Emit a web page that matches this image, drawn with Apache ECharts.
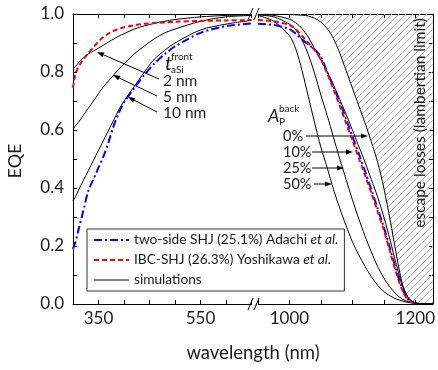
<!DOCTYPE html>
<html>
<head>
<meta charset="utf-8">
<script src="https://cdn.jsdelivr.net/npm/echarts@6/dist/echarts.min.js"></script>
<style>
  html, body { margin: 0; padding: 0; background: #fff; }
  #chart { width: 438px; height: 370px; }
</style>
</head>
<body>
<div id="chart"></div>
<script>
// wavelength samples (nm), left and right part of the broken axis
const wlLeft = [300, 305, 310, 320, 330, 340, 350, 360, 370, 380, 390, 400, 420, 440, 460, 480, 500, 550, 600, 650];
const wlRight = [950, 975, 1000, 1010, 1020, 1030, 1040, 1050, 1060, 1070, 1080, 1090, 1100, 1110, 1120, 1130, 1140, 1150, 1160, 1170, 1180, 1190, 1200, 1210, 1228];

// measured EQE
const blueLeft = [0.19, 0.215, 0.25, 0.32, 0.39, 0.43, 0.47, 0.51, 0.56, 0.615, 0.66, 0.695, 0.745, 0.79, 0.83, 0.862, 0.888, 0.935, 0.958, 0.967];
const redLeft = [0.745, 0.795, 0.815, 0.843, 0.865, 0.885, 0.905, 0.921, 0.933, 0.942, 0.949, 0.954, 0.961, 0.966, 0.969, 0.971, 0.973, 0.976, 0.978, 0.979];
const blueRight = [0.966, 0.962, 0.948, 0.932, 0.912, 0.895, 0.878, 0.852, 0.80, 0.75, 0.695, 0.638, 0.578, 0.52, 0.458, 0.395, 0.33, 0.265, 0.19, 0.115, 0.05, 0.012, 0.003];
const redRight = [0.979, 0.975, 0.962, 0.948, 0.925, 0.90, 0.875, 0.845, 0.795, 0.74, 0.683, 0.624, 0.565, 0.505, 0.445, 0.385, 0.32, 0.255, 0.18, 0.105, 0.045, 0.01, 0.002];

// simulations, front a-Si thickness
const sim2nm = [0.81, 0.82, 0.83, 0.848, 0.862, 0.872, 0.882, 0.893, 0.904, 0.914, 0.924, 0.932, 0.948, 0.959, 0.968, 0.975, 0.981, 0.99, 0.995, 0.997];
const sim5nm = [0.602, 0.615, 0.625, 0.65, 0.675, 0.70, 0.725, 0.75, 0.77, 0.79, 0.81, 0.828, 0.862, 0.89, 0.915, 0.935, 0.948, 0.975, 0.99, 0.995];
const sim10nm = [0.356, 0.37, 0.39, 0.425, 0.46, 0.495, 0.53, 0.565, 0.60, 0.635, 0.67, 0.70, 0.75, 0.80, 0.845, 0.875, 0.90, 0.945, 0.965, 0.978];

// simulations, back parasitic absorption
const simA0 = [0.999, 0.999, 0.998, 0.997, 0.996, 0.993, 0.985, 0.972, 0.95, 0.915, 0.865, 0.805, 0.745, 0.685, 0.625, 0.56, 0.49, 0.40, 0.29, 0.17, 0.065, 0.018, 0.004, 0.001, 0];
const simA10 = [0.998, 0.995, 0.982, 0.97, 0.95, 0.92, 0.88, 0.84, 0.80, 0.755, 0.705, 0.655, 0.60, 0.545, 0.49, 0.43, 0.37, 0.30, 0.22, 0.135, 0.06, 0.018, 0.005, 0.001, 0];
const simA25 = [0.997, 0.99, 0.965, 0.945, 0.91, 0.86, 0.795, 0.72, 0.65, 0.575, 0.50, 0.43, 0.36, 0.295, 0.235, 0.18, 0.13, 0.09, 0.058, 0.033, 0.016, 0.007, 0.003, 0.001, 0];
const simA50 = [0.995, 0.975, 0.925, 0.88, 0.805, 0.715, 0.625, 0.54, 0.47, 0.395, 0.33, 0.27, 0.215, 0.17, 0.13, 0.095, 0.065, 0.043, 0.028, 0.017, 0.01, 0.005, 0.003, 0.001, 0];

const xLabelsLeft = [350, 550];
const xLabelsRight = [1000, 1200];

const nameBlue = 'two-side SHJ (25.1%) Adachi et al.';
const nameRed = 'IBC-SHJ (26.3%) Yoshikawa et al.';
const nameSim = 'simulations';

const FONT = 'Lato';
const TXT = '#1a1a1a';

function pairs(xs, ys) {
  return ys.map((y, i) => [xs[i], y]);
}

// diagonal hatch for the escape-loss region
const hatch = document.createElement('canvas');
hatch.width = 7; hatch.height = 7;
(function () {
  const c = hatch.getContext('2d');
  c.strokeStyle = '#b0b0b0';
  c.lineWidth = 1;
  c.beginPath();
  c.moveTo(0, 7); c.lineTo(7, 0);
  c.moveTo(-1, 1); c.lineTo(1, -1);
  c.moveTo(6, 8); c.lineTo(8, 6);
  c.stroke();
})();

const chart = echarts.init(document.getElementById('chart'), null, { renderer: 'canvas' });

const tick = { show: true, inside: true, length: 4, lineStyle: { color: '#000', width: 1 } };
const axLine = { show: true, onZero: false, lineStyle: { color: '#000', width: 1 } };

function xAxis(gridIndex, min, max, position, labels) {
  return {
    type: 'value', gridIndex, min, max, interval: 50, position,
    axisLine: axLine, axisTick: tick, splitLine: { show: false },
    axisLabel: labels ? {
      show: true, margin: 6, color: TXT, fontFamily: FONT, fontSize: 17,
      formatter: (v) => (labels.includes(v) ? String(v) : '')
    } : { show: false }
  };
}

const black = { color: '#000', width: 1 };
const blueStyle = { color: '#0000ff', width: 2, type: [8, 3, 2, 3] };
const redStyle = { color: '#ff0000', width: 2, type: [5, 3] };

function line(name, xi, data, style, extra) {
  return Object.assign({
    name, type: 'line', xAxisIndex: xi, yAxisIndex: xi === 0 ? 0 : 1,
    data, symbol: 'none', smooth: 0.3, lineStyle: style,
    itemStyle: { color: 'rgba(0,0,0,0)', borderWidth: 0 },
    emphasis: { disabled: true }, silent: true, animation: false
  }, extra || {});
}

function arrow(x1, y1, x2, y2) {
  const a = Math.atan2(y2 - y1, x2 - x1);
  const L = 7, W = 2.6;
  const bx = x2 - L * Math.cos(a), by = y2 - L * Math.sin(a);
  const nx = -Math.sin(a) * W, ny = Math.cos(a) * W;
  return [
    { type: 'line', shape: { x1, y1, x2: bx, y2: by }, style: { stroke: '#000', lineWidth: 1 } },
    { type: 'polygon', shape: { points: [[x2, y2], [bx + nx, by + ny], [bx - nx, by - ny]] }, style: { fill: '#000' } }
  ];
}

function text(x, y, s, size, opts) {
  opts = opts || {};
  return {
    type: 'text', x, y, rotation: opts.rotation || 0, z: 100,
    style: {
      text: s, fill: TXT,
      font: (opts.italic ? 'italic ' : '') + size + 'px ' + FONT,
      align: opts.align || 'left', verticalAlign: 'middle',
      textAlign: opts.align || 'left', textVerticalAlign: 'middle'
    }
  };
}

function breakMarks(y) {
  return [
    { type: 'line', shape: { x1: 248, y1: y + 6, x2: 253, y2: y - 6 }, style: { stroke: '#000', lineWidth: 1 } },
    { type: 'line', shape: { x1: 254, y1: y + 6, x2: 259, y2: y - 6 }, style: { stroke: '#000', lineWidth: 1 } }
  ];
}

const option = {
  animation: false,
  backgroundColor: '#fff',
  grid: [
    { left: 73, top: 14, width: 178.5, height: 290 },
    { left: 258, top: 14, width: 176, height: 290 }
  ],
  xAxis: [
    xAxis(0, 300, 650, 'bottom', xLabelsLeft),
    xAxis(0, 300, 650, 'top', null),
    xAxis(1, 950, 1228, 'bottom', xLabelsRight),
    xAxis(1, 950, 1228, 'top', null)
  ],
  yAxis: [
    {
      type: 'value', gridIndex: 0, min: 0, max: 1, interval: 0.1, position: 'left',
      axisLine: axLine, axisTick: tick, splitLine: { show: false },
      axisLabel: {
        margin: 9, color: TXT, fontFamily: FONT, fontSize: 17,
        formatter: (v) => (Math.round(v * 10) % 2 === 0 ? v.toFixed(1) : '')
      }
    },
    {
      type: 'value', gridIndex: 1, min: 0, max: 1, interval: 0.1, position: 'right',
      axisLine: axLine, axisTick: tick, splitLine: { show: false },
      axisLabel: { show: false }
    }
  ],
  legend: {
    orient: 'vertical', left: 87, top: 229,
    data: [
      { name: nameBlue, lineStyle: { width: 2 } },
      { name: nameRed, lineStyle: { width: 2 } },
      { name: nameSim, lineStyle: { width: 1 } }
    ],
    itemWidth: 35, itemHeight: 14, itemGap: 6,
    padding: [4, 6, 4, 6],
    borderColor: '#333', borderWidth: 1, backgroundColor: '#fff',
    selectedMode: false,
    itemStyle: { opacity: 0 },
    textStyle: {
      color: TXT, fontFamily: FONT, fontSize: 13.7,
      rich: {
        n: { color: TXT, fontFamily: FONT, fontSize: 13.7 },
        i: { color: TXT, fontFamily: FONT, fontSize: 13.7, fontStyle: 'italic' }
      }
    },
    formatter: (name) => {
      const k = name.indexOf('et al.');
      return k < 0 ? '{n|' + name + '}' : '{n|' + name.slice(0, k) + '}{i|et al.}';
    }
  },
  series: [
    line(nameSim, 0, pairs(wlLeft, sim2nm), black),
    line(nameSim, 0, pairs(wlLeft, sim5nm), black),
    line(nameSim, 0, pairs(wlLeft, sim10nm), black),
    line(nameBlue, 0, pairs(wlLeft, blueLeft), blueStyle),
    line(nameRed, 0, pairs(wlLeft, redLeft), redStyle),
    line(nameSim, 2, pairs(wlRight, simA0), black, {
      areaStyle: { origin: 'end', opacity: 1, color: { image: hatch, repeat: 'repeat' } }
    }),
    line(nameSim, 2, pairs(wlRight, simA10), black),
    line(nameSim, 2, pairs(wlRight, simA25), black),
    line(nameSim, 2, pairs(wlRight, simA50), black),
    line(nameBlue, 2, pairs(wlRight, blueRight), blueStyle),
    line(nameRed, 2, pairs(wlRight, redRight), redStyle)
  ],
  graphic: [].concat(
    breakMarks(304), breakMarks(14),
    arrow(159, 79, 97, 52), arrow(157, 96, 113, 75), arrow(157, 112, 128, 97),
    arrow(306, 136, 368, 136), arrow(312, 152, 353, 152), arrow(312, 168, 344, 168), arrow(314, 184, 332, 184),
    [
      text(165, 64, 't', 20, { italic: true }),
      text(171, 57, 'front', 10),
      text(171, 70, 'aSi', 10),
      text(163, 81, '2 nm', 15.5),
      text(163, 97, '5 nm', 15.5),
      text(163, 113, '10 nm', 15.5),
      text(268, 116, 'A', 18, { italic: true }),
      text(279, 109, 'back', 10),
      text(279, 122, 'P', 10),
      text(283, 136, '0%', 14.5),
      text(283, 152, '10%', 14.5),
      text(283, 168, '25%', 14.5),
      text(283, 184, '50%', 14.5),
      text(253, 353, 'wavelength (nm)', 18.5, { align: 'center' }),
      text(15, 161, 'EQE', 18, { align: 'center', rotation: Math.PI / 2 }),
      text(420, 123, 'escape losses (lambertian limit)', 15.5, { align: 'center', rotation: Math.PI / 2 })
    ]
  )
};

chart.setOption(option);
</script>
</body>
</html>
